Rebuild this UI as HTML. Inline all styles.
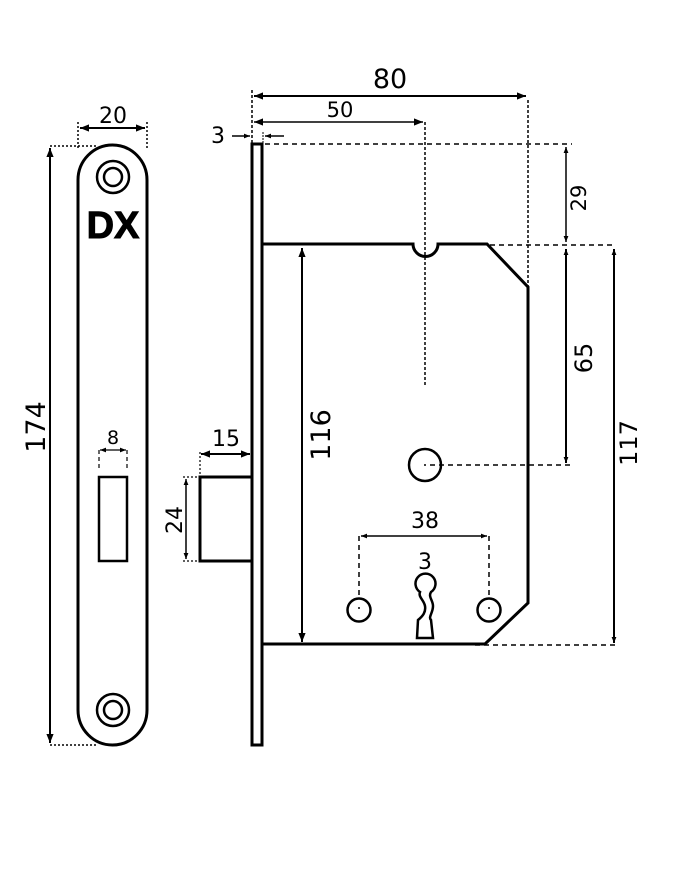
<!DOCTYPE html>
<html><head><meta charset="utf-8"><style>
html,body{margin:0;padding:0;background:#fff;}
svg{display:block;}
text{font-family:"DejaVu Sans","Liberation Sans",sans-serif;fill:#000;}
</style></head><body>
<svg width="691" height="874" viewBox="0 0 691 874" xmlns="http://www.w3.org/2000/svg">
<defs>
<marker id="a" viewBox="0 0 10 10" refX="10" refY="5" markerWidth="12" markerHeight="9" orient="auto-start-reverse" markerUnits="userSpaceOnUse"><path d="M0,1 L10,5 L0,9 z" fill="#000"/></marker>
<marker id="s" viewBox="0 0 10 10" refX="10" refY="5" markerWidth="8" markerHeight="6" orient="auto-start-reverse" markerUnits="userSpaceOnUse"><path d="M0,1 L10,5 L0,9 z" fill="#000"/></marker>
</defs>
<g fill="none" stroke="#000">
<!-- faceplate -->
<path d="M78,710 L78,180 A34.5,35 0 0 1 147,180 L147,710 A34.5,35 0 0 1 78,710 Z" stroke-width="3"/>
<circle cx="113" cy="177" r="16" stroke-width="2.5"/><circle cx="113" cy="177" r="9" stroke-width="2.5"/>
<circle cx="113" cy="710" r="16" stroke-width="2.5"/><circle cx="113" cy="710" r="9" stroke-width="2.5"/>
<rect x="99" y="477" width="28" height="84" stroke-width="2.5"/>
<!-- 20 -->
<path d="M78,122V150M147,122V150" stroke-width="1.5" stroke-dasharray="2,2"/>
<line x1="80" y1="128" x2="145" y2="128" stroke-width="2" marker-start="url(#a)" marker-end="url(#a)"/>
<!-- 174 -->
<path d="M50,146H96M50,745H96" stroke-width="1.5" stroke-dasharray="2,2"/>
<line x1="50" y1="148" x2="50" y2="743" stroke-width="2" marker-start="url(#a)" marker-end="url(#a)"/>
<!-- 8 -->
<path d="M99,450V471M127,450V471" stroke-width="1.2" stroke-dasharray="4,3"/>
<line x1="100" y1="450" x2="126" y2="450" stroke-width="1.2" marker-start="url(#s)" marker-end="url(#s)"/>
<!-- side plate -->
<rect x="252" y="144" width="10" height="601" stroke-width="3"/>
<!-- body -->
<path d="M262,244 L413,244 A12.5,12.5 0 0 0 438,244 L487,244 L528,287 L528,603 L485,644 L262,644" stroke-width="3"/>
<!-- bolt -->
<path d="M251,477 H200 V561 H251" stroke-width="3"/>
<circle cx="425" cy="465" r="16" stroke-width="2.5"/>
<circle cx="359" cy="610" r="11.5" stroke-width="2.5"/>
<circle cx="489" cy="610" r="11.5" stroke-width="2.5"/>
<path d="M420,592 A10,10 0 1 1 431,592 C428,597 433,600 433,606 C433,613 428,617 431,620 L433,638 L417,638 L418,620 C423,616 426,612 425,606 C424,600 418,597 420,592 z" stroke-width="2.5"/>
<!-- 80 / 50 -->
<path d="M252,90V143M528,100V287M425,122V385" stroke-width="1.5" stroke-dasharray="3,2"/>
<line x1="254" y1="96" x2="526" y2="96" stroke-width="2" marker-start="url(#a)" marker-end="url(#a)"/>
<line x1="254" y1="122" x2="423" y2="122" stroke-width="1.5" marker-start="url(#a)" marker-end="url(#a)"/>
<!-- 3 -->
<line x1="232" y1="136" x2="250" y2="136" stroke-width="1.5" marker-end="url(#s)"/>
<line x1="284" y1="136" x2="265" y2="136" stroke-width="1.5" marker-end="url(#s)"/>
<path d="M263,132V143" stroke-width="1" stroke-dasharray="2,1"/>
<!-- horizontal dashes -->
<path d="M265,144H572M490,245H616M430,465H570M475,645H616" stroke-width="1.5" stroke-dasharray="5,4"/>
<!-- verticals -->
<line x1="566" y1="147" x2="566" y2="242" stroke-width="1.5" marker-start="url(#s)" marker-end="url(#s)"/>
<line x1="566" y1="249" x2="566" y2="463" stroke-width="2" marker-start="url(#s)" marker-end="url(#s)"/>
<line x1="614" y1="249" x2="614" y2="643" stroke-width="2" marker-start="url(#s)" marker-end="url(#s)"/>
<line x1="302" y1="248" x2="302" y2="642" stroke-width="2" marker-start="url(#a)" marker-end="url(#a)"/>
<!-- 15 -->
<path d="M200,452V477" stroke-width="1.2" stroke-dasharray="2,2"/>
<line x1="201" y1="454" x2="250" y2="454" stroke-width="2" marker-start="url(#a)" marker-end="url(#a)"/>
<!-- 24 -->
<path d="M183,477H200M183,561H200" stroke-width="1.2" stroke-dasharray="2,2"/>
<line x1="186" y1="479" x2="186" y2="559" stroke-width="1.5" marker-start="url(#s)" marker-end="url(#s)"/>
<!-- 38 -->
<path d="M359,536V598M489,536V598" stroke-width="1.5" stroke-dasharray="5,4"/>
<line x1="361" y1="536" x2="487" y2="536" stroke-width="1.5" marker-start="url(#s)" marker-end="url(#s)"/>
</g>
<g fill="#000"><circle cx="425" cy="465" r="1"/><circle cx="359" cy="608" r="1"/><circle cx="489" cy="608" r="1"/></g>
<text x="113" y="238" font-weight="bold" font-size="38" text-anchor="middle" stroke="#000" stroke-width="1" style="font-family:'Liberation Sans',sans-serif">DX</text>
<text x="113" y="123" font-size="22" text-anchor="middle">20</text>
<text x="113" y="444" font-size="19" text-anchor="middle">8</text>
<text transform="translate(45,427) rotate(-90)" font-size="27" text-anchor="middle">174</text>
<text x="390" y="88" font-size="27" text-anchor="middle">80</text>
<text x="340" y="117" font-size="21" text-anchor="middle">50</text>
<text x="218" y="143" font-size="22" text-anchor="middle">3</text>
<text transform="translate(586,198) rotate(-90)" font-size="21" text-anchor="middle">29</text>
<text transform="translate(592,358) rotate(-90)" font-size="24" text-anchor="middle">65</text>
<text transform="translate(637,443) rotate(-90)" font-size="24" text-anchor="middle">117</text>
<text transform="translate(330,435) rotate(-90)" font-size="27" text-anchor="middle">116</text>
<text x="226" y="446" font-size="22" text-anchor="middle">15</text>
<text transform="translate(182,520) rotate(-90)" font-size="22" text-anchor="middle">24</text>
<text x="425" y="528" font-size="22" text-anchor="middle">38</text>
<text x="425" y="569" font-size="22" text-anchor="middle">3</text>
</svg>
</body></html>
